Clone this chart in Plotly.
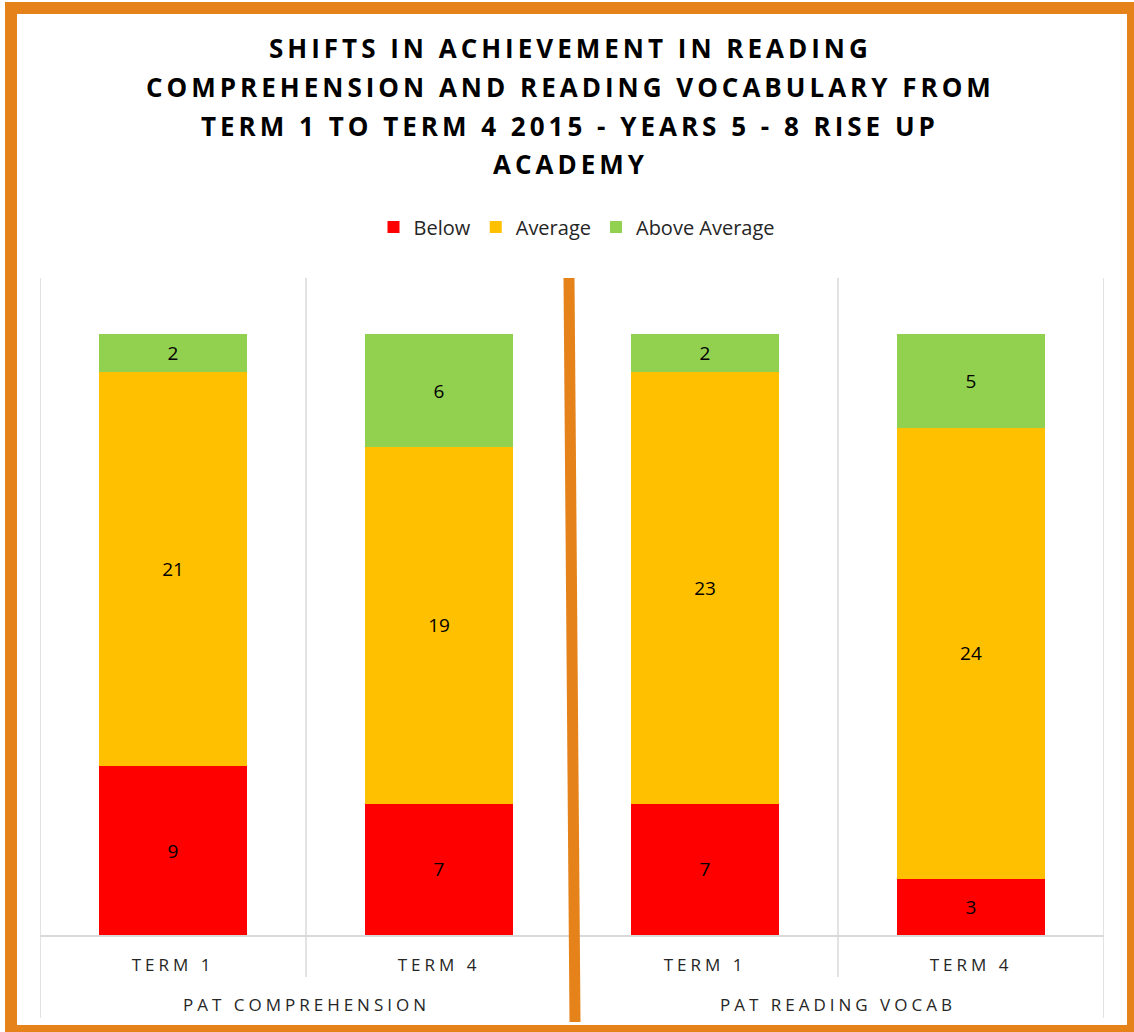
import plotly.graph_objects as go

# ---- data ----
groups = ["PAT COMPREHENSION", "PAT READING VOCAB"]
terms = ["TERM 1", "TERM 4", "TERM 1", "TERM 4"]
below = [9, 7, 7, 3]
average = [21, 19, 23, 24]
above = [2, 6, 2, 5]
series_names = ["Below", "Average", "Above Average"]
title_lines = [
    "SHIFTS IN ACHIEVEMENT IN READING",
    "COMPREHENSION AND READING VOCABULARY FROM",
    "TERM 1 TO TERM 4 2015 - YEARS 5 - 8 RISE UP",
    "ACADEMY",
]

colors = ["#FF0000", "#FFC000", "#92D050"]
FONT = "Open Sans"
ORANGE = "#E5821A"
GRID = "#D9D9D9"

xpos = list(range(len(terms)))

fig = go.Figure()
for name, vals, col in zip(series_names, [below, average, above], colors):
    fig.add_trace(go.Bar(
        x=xpos, y=vals, name=name, width=0.56,
        marker=dict(color=col, line=dict(width=0)),
        text=vals, texttemplate="%{text}", textposition="inside",
        insidetextanchor="middle", textangle=0,
        textfont=dict(family=FONT, size=19, color="black"),
    ))

def spaced(s, sp):
    return f'<span style="letter-spacing:{sp}px">{s}</span>'

# plot area: x 40..1104 px, y 278..935 px
def py(Y):
    return (935 - Y) / 657

def px(X):
    return (X - 40) / 1064

shapes = []
for xv in [-0.5, 0.5, 1.5, 2.5, 3.5]:
    y0 = py(1018) if xv in (-0.5, 1.5, 3.5) else py(977)
    shapes.append(dict(type="line", xref="x", yref="paper", x0=xv, x1=xv,
                       y0=y0, y1=1, line=dict(color=GRID, width=1.5), layer="below"))
# orange divider
shapes.append(dict(type="line", xref="paper", yref="paper", x0=px(569), x1=px(575),
                   y0=py(278), y1=py(1022), line=dict(color=ORANGE, width=11)))
# outer border
shapes.append(dict(type="rect", xref="paper", yref="paper",
                   x0=px(11), x1=px(1133), y0=py(8), y1=py(1031),
                   line=dict(color=ORANGE, width=12)))

annotations = []
for gi, g in enumerate(groups):
    annotations.append(dict(x=gi * 2 + 0.5, xref="x", y=py(1004), yref="paper",
                            text=spaced(g, 4), showarrow=False, yanchor="middle",
                            font=dict(family=FONT, size=17, color="#262626")))
for line, Y in zip(title_lines, [48, 87, 126, 164]):
    annotations.append(dict(x=px(570), xref="paper", y=py(Y), yref="paper",
                            text=f"<b>{spaced(line, 4)}</b>", showarrow=False,
                            xanchor="center", yanchor="middle",
                            font=dict(family=FONT, size=26, color="black")))

fig.update_layout(
    width=1134, height=1032,
    margin=dict(l=40, r=30, t=278, b=97),
    paper_bgcolor="white", plot_bgcolor="white",
    barmode="stack",
    legend=dict(orientation="h", x=px(577), xanchor="center", y=py(227), yanchor="middle",
                traceorder="normal", itemwidth=30,
                font=dict(family=FONT, size=20, color="#262626")),
    xaxis=dict(range=[-0.5, 3.5], tickvals=xpos,
               ticktext=[spaced(t, 4) for t in terms],
               showgrid=False, zeroline=False, showline=True,
               linecolor=GRID, linewidth=1.5,
               ticks="outside", ticklen=14, tickcolor="rgba(0,0,0,0)",
               tickfont=dict(family=FONT, size=17, color="#262626")),
    yaxis=dict(range=[0, 35], visible=False),
    shapes=shapes,
    annotations=annotations,
    showlegend=True,
)

fig.write_html("out.html", config={"displayModeBar": False},
               post_script="document.body.style.margin='0px';")
